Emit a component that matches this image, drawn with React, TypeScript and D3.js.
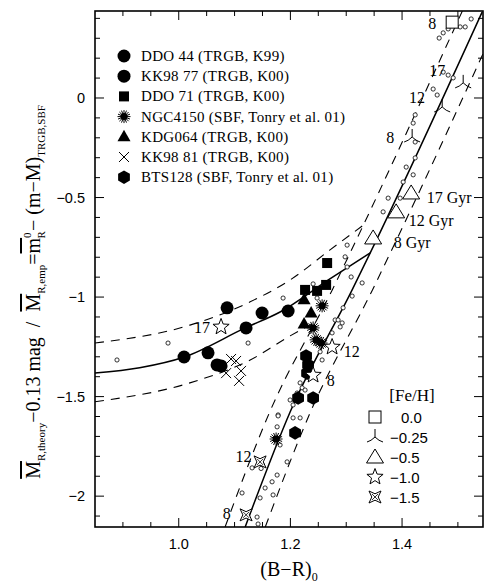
import * as d3 from "d3";

const W = 484;
const H = 584;

// axis ranges read from the frame
const xDomain = [0.85, 1.545];
const yDomain = [-2.155, 0.437];
const xLabels = [1.0, 1.2, 1.4];
const yLabels = [0, -0.5, -1, -1.5, -2];

// theoretical relations (solid) and their bands (dashed)
const steepSolid = [[1.119, -2.155], [1.1995, -1.577], [1.3106, -0.964], [1.343, -0.778], [1.5435, 0.432]];
const steepUpper = [[1.083, -2.155], [1.163, -1.577], [1.275, -0.964], [1.307, -0.778], [1.508, 0.437]];
const steepLower = [[1.155, -2.155], [1.236, -1.577], [1.347, -0.964], [1.379, -0.778], [1.58, 0.437]];
const blueSolid = [[0.85, -1.382], [0.93, -1.355], [1.01, -1.301], [1.119, -1.155], [1.1815, -1.075], [1.268, -0.914], [1.343, -0.778]];
const blueUpper = [[0.85, -1.231], [1.02, -1.141], [1.128, -1.024], [1.1995, -0.914], [1.271, -0.763], [1.329, -0.642]];
const blueLower = [[0.85, -1.526], [1.02, -1.431], [1.128, -1.316], [1.1995, -1.195], [1.2456, -1.125]];

// small open circles: single model populations
const modelPoints = [
  [1.4665, 0.301], [1.4737, 0.327], [1.4826, 0.347], [1.5041, 0.357], [1.5131, 0.357], [1.5238, 0.397],
  [1.4737, 0.13], [1.4826, 0.115], [1.4916, 0.101], [1.4557, 0.045], [1.4629, 0.015],
  [1.4235, -0.085], [1.4199, -0.126], [1.4235, -0.221], [1.4235, -0.301], [1.4074, -0.347],
  [1.4199, -0.386], [1.402, -0.422], [1.3751, -0.503], [1.3966, -0.503], [1.3661, -0.572],
  [1.3016, -0.739], [1.298, -0.798], [1.3016, -0.849], [1.3088, -0.899], [1.3285, -0.929],
  [1.2407, -0.934], [1.1869, -1.005], [1.3106, -0.995], [1.2478, -1.005], [1.2944, -1.054],
  [1.2801, -1.115], [1.2855, -1.115], [1.2927, -1.13], [1.2891, -1.15], [1.2747, -1.18],
  [1.2532, -1.275], [1.2568, -1.316], [1.2174, -1.431], [1.221, -1.456], [1.2263, -1.467],
  [1.1995, -1.517], [1.2048, -1.542], [1.2048, -1.607], [1.2174, -1.607], [1.212, -1.482],
  [1.178, -1.592], [1.1762, -1.652], [1.1941, -1.828], [1.1815, -1.743], [1.1762, -1.894],
  [1.1672, -1.928], [1.169, -1.994], [1.1547, -1.959], [1.1457, -2.009], [1.1403, -2.105],
  [1.1421, -2.14], [1.1134, -1.984], [1.1314, -1.858], [1.1493, -1.841], [1.1475, -1.861],
  [0.8894, -1.316], [0.9808, -1.231], [1.1242, -1.231], [1.178, -1.597],
];

// observed galaxies
const ddo44 = [[1.0095, -1.301], [1.0525, -1.28], [1.0866, -1.054], [1.1206, -1.155], [1.1493, -1.08], [1.1959, -1.07]];
const kk9877 = [[1.0686, -1.341], [1.0758, -1.346]];
const ddo71 = [[1.2658, -0.829], [1.264, -0.939], [1.2478, -0.969], [1.2263, -0.964]];
const ngc4150 = [[1.2568, -1.044], [1.2407, -1.155], [1.2461, -1.215], [1.255, -1.231], [1.1744, -1.713]];
const kdg064 = [[1.2245, -1.014], [1.2371, -1.08], [1.2245, -1.135]];
const kk9881 = [[1.0937, -1.311], [1.1027, -1.321], [1.0848, -1.382], [1.1116, -1.371], [1.1081, -1.421]];
const bts128 = [[1.2281, -1.296], [1.2317, -1.341], [1.2299, -1.382], [1.2138, -1.507], [1.2407, -1.507], [1.2084, -1.682]];

const galaxyNames = [
  "DDO 44 (TRGB, K99)",
  "KK98 77 (TRGB, K00)",
  "DDO 71 (TRGB, K00)",
  "NGC4150 (SBF, Tonry et al. 01)",
  "KDG064 (TRGB, K00)",
  "KK98 81 (TRGB, K00)",
  "BTS128 (SBF, Tonry et al. 01)",
];
const galaxyShapes = ["circle", "circle", "square", "burst", "triangle", "cross", "hexagon"];
const galaxySets = [ddo44, kk9877, ddo71, ngc4150, kdg064, kk9881, bts128];

// model ages marked with metallicity symbols
const feValues = ["0.0", "\u22120.25", "\u22120.5", "\u22121.0", "\u22121.5"];
const feShapes = ["osquare", "wye", "otriangle", "ostar", "ostar4"];
const feSquare = [[1.4898, 0.381]];
const feWye = [[1.5095, 0.076], [1.4719, -0.045], [1.4181, -0.196]];
const feTriangle = [[1.4163, -0.477], [1.3894, -0.572], [1.3482, -0.703]];
const feStar = [[1.0758, -1.15], [1.2747, -1.251], [1.2407, -1.392]];
const feStar4 = [[1.1457, -1.828], [1.1206, -2.094]];
const feSets = [feSquare, feWye, feTriangle, feStar, feStar4];

const ageNotes: [string, number, number][] = [
  ["8", 1.454, 0.376],
  ["17", 1.463, 0.14],
  ["12", 1.427, 0.005],
  ["8", 1.3787, -0.196],
  ["17 Gyr", 1.4844, -0.498],
  ["12 Gyr", 1.4522, -0.613],
  ["8 Gyr", 1.418, -0.728],
  ["17", 1.0418, -1.155],
  ["12", 1.31, -1.274],
  ["8", 1.2724, -1.42],
  ["12", 1.1158, -1.802],
  ["8", 1.086, -2.086],
];

const x = d3.scaleLinear().domain(xDomain).range([95, 483]);
const y = d3.scaleLinear().domain(yDomain).range([527, 11]);

const line = d3
  .line<number[]>()
  .x((d) => x(d[0]))
  .y((d) => y(d[1]))
  .curve(d3.curveMonotoneX);

const serif = "'Liberation Serif', 'DejaVu Serif', serif";
const sans = "'Liberation Sans', Arial, sans-serif";

function Marker({ kind, cx, cy }: { kind: string; cx: number; cy: number }) {
  if (kind === "circle") return <circle cx={cx} cy={cy} r={6.5} fill="#000" />;
  if (kind === "square") return <rect x={cx - 5} y={cy - 5} width={10} height={10} fill="#000" />;
  if (kind === "triangle")
    return <path d={`M${cx},${cy - 7}L${cx + 6.5},${cy + 4.5}L${cx - 6.5},${cy + 4.5}Z`} fill="#000" />;
  if (kind === "hexagon") {
    const pts = d3.range(6).map((i) => {
      const a = (Math.PI / 3) * i - Math.PI / 2;
      return `${cx + 6.8 * Math.cos(a)},${cy + 6.8 * Math.sin(a)}`;
    });
    return <polygon points={pts.join(" ")} fill="#000" />;
  }
  if (kind === "cross")
    return (
      <path d={`M${cx - 5},${cy - 5}L${cx + 5},${cy + 5}M${cx - 5},${cy + 5}L${cx + 5},${cy - 5}`} stroke="#000" strokeWidth={1} />
    );
  if (kind === "burst") {
    const rays = d3
      .range(16)
      .map((i) => {
        const a = (Math.PI / 8) * i;
        return `M${cx},${cy}L${cx + 6.5 * Math.cos(a)},${cy + 6.5 * Math.sin(a)}`;
      })
      .join("");
    return (
      <g>
        <path d={rays} stroke="#000" strokeWidth={1} />
        <circle cx={cx} cy={cy} r={3.5} fill="#000" />
      </g>
    );
  }
  if (kind === "osquare")
    return <rect x={cx - 6} y={cy - 6} width={12} height={12} fill="#fff" stroke="#000" strokeWidth={1} />;
  if (kind === "wye")
    return (
      <path
        d={`M${cx},${cy}L${cx},${cy - 8}M${cx},${cy}Q${cx - 4},${cy + 4} ${cx - 8},${cy + 5}M${cx},${cy}Q${cx + 4},${cy + 4} ${cx + 8},${cy + 5}`}
        fill="none"
        stroke="#000"
        strokeWidth={1}
      />
    );
  if (kind === "otriangle")
    return <path d={`M${cx},${cy - 8}L${cx + 8.5},${cy + 6}L${cx - 8.5},${cy + 6}Z`} fill="#fff" stroke="#000" strokeWidth={1} />;
  if (kind === "ostar") {
    const pts = d3.range(10).map((i) => {
      const a = (Math.PI / 5) * i - Math.PI / 2;
      const r = i % 2 === 0 ? 8.5 : 3.6;
      return `${cx + r * Math.cos(a)},${cy + r * Math.sin(a)}`;
    });
    return <polygon points={pts.join(" ")} fill="#fff" stroke="#000" strokeWidth={1} />;
  }
  if (kind === "ostar4") {
    const pts = d3.range(8).map((i) => {
      const a = (Math.PI / 4) * i - Math.PI / 4;
      const r = i % 2 === 0 ? 8.5 : 3.2;
      return `${cx + r * Math.cos(a)},${cy + r * Math.sin(a)}`;
    });
    return (
      <g>
        <polygon points={pts.join(" ")} fill="#fff" stroke="#000" strokeWidth={1} />
        <path d={`M${cx - 3},${cy - 3}L${cx + 3},${cy + 3}M${cx - 3},${cy + 3}L${cx + 3},${cy - 3}`} stroke="#000" strokeWidth={0.8} />
      </g>
    );
  }
  return null;
}

export default function App() {
  const [x0, x1] = x.range();
  const [y0, y1] = y.range();
  const xMinor = d3.range(0.9, 1.54, 0.05);
  const yMinor = d3.range(-2.1, 0.41, 0.1);
  const isMajorX = (v: number) => xLabels.some((l) => Math.abs(l - v) < 1e-6);
  const isMajorY = (v: number) => yLabels.some((l) => Math.abs(l - v) < 1e-6);

  return (
    <svg width={W} height={H} style={{ position: "absolute", left: 0, top: 0, background: "#fff" }}>
      <defs>
        <clipPath id="plot">
          <rect x={x0} y={y1} width={x1 - x0} height={y0 - y1} />
        </clipPath>
      </defs>

      {/* ticks on all four sides */}
      <g stroke="#000" strokeWidth={1}>
        {xMinor.map((v, i) => {
          const len = isMajorX(v) ? 9 : 5;
          return (
            <g key={"xt" + i}>
              <line x1={x(v)} x2={x(v)} y1={y0} y2={y0 - len} />
              <line x1={x(v)} x2={x(v)} y1={y1} y2={y1 + len} />
            </g>
          );
        })}
        {yMinor.map((v, i) => {
          const len = isMajorY(v) ? 9 : 5;
          return (
            <g key={"yt" + i}>
              <line x1={x0} x2={x0 + len} y1={y(v)} y2={y(v)} />
              <line x1={x1} x2={x1 - len} y1={y(v)} y2={y(v)} />
            </g>
          );
        })}
      </g>

      <g clipPath="url(#plot)" fill="none" stroke="#000">
        <path d={line(blueSolid) ?? ""} strokeWidth={1.5} />
        <path d={line(steepSolid) ?? ""} strokeWidth={1.5} />
        {[blueUpper, blueLower, steepUpper, steepLower].map((d, i) => (
          <path key={"b" + i} d={line(d) ?? ""} strokeWidth={1.1} strokeDasharray="9,7" />
        ))}
      </g>

      <g fill="#fff" stroke="#000" strokeWidth={0.8}>
        {modelPoints.map((d, i) => (
          <circle key={"m" + i} cx={x(d[0])} cy={y(d[1])} r={2.1} />
        ))}
      </g>

      {galaxySets.map((set, k) =>
        set.map((d, i) => <Marker key={`g${k}-${i}`} kind={galaxyShapes[k]} cx={x(d[0])} cy={y(d[1])} />)
      )}

      {feSets.map((set, k) =>
        set.map((d, i) => <Marker key={`f${k}-${i}`} kind={feShapes[k]} cx={x(d[0])} cy={y(d[1])} />)
      )}

      <g fontFamily={serif} fontSize={16} textAnchor="middle" dominantBaseline="central">
        {ageNotes.map((n, i) => (
          <text key={"a" + i} x={x(n[1])} y={y(n[2])}>
            {n[0]}
          </text>
        ))}
      </g>

      {/* frame */}
      <rect x={x0} y={y1} width={x1 - x0} height={y0 - y1} fill="none" stroke="#000" strokeWidth={1.6} />

      {/* tick labels */}
      <g fontFamily={sans} fontSize={14.5} fill="#000">
        {xLabels.map((v) => (
          <text key={"xl" + v} x={x(v)} y={y0 + 22} textAnchor="middle">
            {v.toFixed(1)}
          </text>
        ))}
        {yLabels.map((v) => (
          <text key={"yl" + v} x={x0 - 10} y={y(v) + 5} textAnchor="end">
            {v === 0 ? "0" : "\u2212" + Math.abs(v)}
          </text>
        ))}
      </g>

      {/* axis titles */}
      <text x={(x0 + x1) / 2} y={576} textAnchor="middle" fontFamily={serif} fontSize={20}>
        (B{"\u2212"}R)
        <tspan fontSize={12} dy={5}>
          0
        </tspan>
      </text>
      <text
        transform="translate(40,292) rotate(-90)"
        textAnchor="middle"
        fontFamily={serif}
        fontSize={20}
        style={{ whiteSpace: "pre" }}
      >
        <tspan style={{ textDecoration: "overline" }}>M</tspan>
        <tspan fontSize={11} dy={5}>R,theory</tspan>
        <tspan dy={-5}>{"\u2212"}0.13 mag  /  </tspan>
        <tspan style={{ textDecoration: "overline" }}>M</tspan>
        <tspan fontSize={11} dy={5}>R,emp</tspan>
        <tspan dy={-5}>=</tspan>
        <tspan style={{ textDecoration: "overline" }}>m</tspan>
        <tspan fontSize={11} dy={-9}>0</tspan>
        <tspan fontSize={11} dx={-6} dy={14}>R</tspan>
        <tspan dy={-5}>{"\u2212"} (m{"\u2212"}M)</tspan>
        <tspan fontSize={11} dy={5}>TRGB,SBF</tspan>
      </text>

      {/* galaxy legend */}
      {galaxyNames.map((name, i) => (
        <g key={"gl" + i}>
          <Marker kind={galaxyShapes[i]} cx={124} cy={56 + i * 20.2} />
          <text
            x={141}
            y={56 + i * 20.2}
            dominantBaseline="central"
            fontFamily={serif}
            fontSize={15}
            letterSpacing={0.3}
          >
            {name}
          </text>
        </g>
      ))}

      {/* metallicity legend */}
      <text x={412} y={395} textAnchor="middle" dominantBaseline="central" fontFamily={serif} fontSize={17}>
        [Fe/H]
      </text>
      {feValues.map((v, i) => (
        <g key={"fl" + i}>
          <Marker kind={feShapes[i]} cx={375} cy={417 + i * 20} />
          <text
            x={v.startsWith("\u2212") ? 390 : 401}
            y={417 + i * 20}
            dominantBaseline="central"
            fontFamily={sans}
            fontSize={15}
          >
            {v}
          </text>
        </g>
      ))}
    </svg>
  );
}
